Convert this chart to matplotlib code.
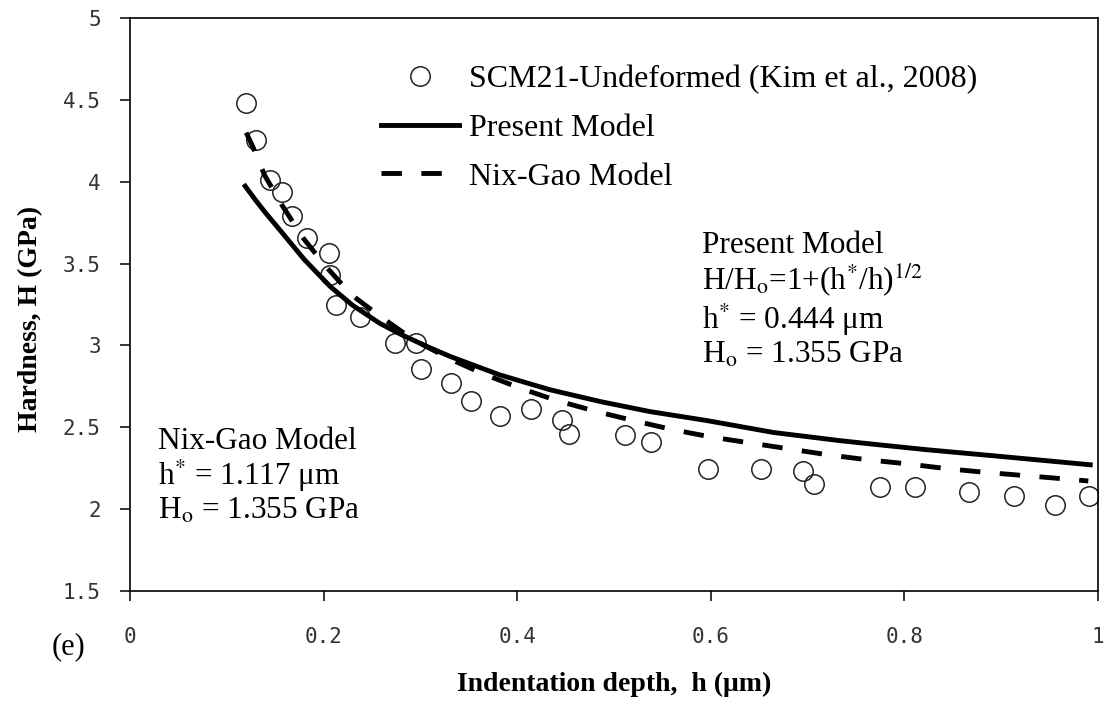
import matplotlib
matplotlib.use('Agg')
import matplotlib.pyplot as plt
from matplotlib.ticker import FormatStrFormatter

plt.rcParams['font.family'] = 'Liberation Serif'
plt.rcParams['mathtext.fontset'] = 'stix'

depth_exp = [0.120, 0.130, 0.145, 0.157, 0.167, 0.183, 0.206, 0.207, 0.213, 0.238,
             0.274, 0.295, 0.301, 0.332, 0.352, 0.382, 0.414, 0.446, 0.454, 0.511,
             0.538, 0.597, 0.652, 0.695, 0.707, 0.775, 0.811, 0.867, 0.913, 0.956, 0.991]
hard_exp = [4.480, 4.257, 4.013, 3.938, 3.790, 3.657, 3.566, 3.433, 3.247, 3.172,
            3.013, 3.017, 2.855, 2.770, 2.663, 2.570, 2.613, 2.543, 2.462, 2.454,
            2.408, 2.247, 2.247, 2.230, 2.154, 2.133, 2.133, 2.102, 2.078, 2.023, 2.078]

# model curves, sampled from the figure
depth_present = [0.119, 0.130, 0.140, 0.155, 0.180, 0.207, 0.230, 0.258, 0.279, 0.307,
                 0.331, 0.382, 0.434, 0.486, 0.537, 0.596, 0.665, 0.734, 0.764, 0.823,
                 0.892, 0.992]
hard_present = [3.973, 3.885, 3.810, 3.704, 3.525, 3.359, 3.245, 3.135, 3.070, 2.993,
                2.932, 2.820, 2.729, 2.657, 2.596, 2.541, 2.468, 2.418, 2.399, 2.363,
                2.326, 2.271]

depth_nixgao = [0.120, 0.127, 0.139, 0.157, 0.179, 0.201, 0.229, 0.260, 0.293, 0.331,
                0.365, 0.403, 0.441, 0.482, 0.520, 0.561, 0.601, 0.641, 0.682, 0.721,
                0.761, 0.804, 0.844, 0.885, 0.926, 0.967, 0.990]
hard_nixgao = [4.300, 4.212, 4.040, 3.857, 3.655, 3.491, 3.308, 3.171, 3.034, 2.916,
               2.826, 2.739, 2.663, 2.596, 2.541, 2.485, 2.440, 2.404, 2.367, 2.332,
               2.302, 2.276, 2.247, 2.224, 2.204, 2.184, 2.172]

x_ticks = [0, 0.2, 0.4, 0.6, 0.8, 1]
y_ticks = [1.5, 2, 2.5, 3, 3.5, 4, 4.5, 5]

fig = plt.figure(figsize=(11.06, 7.05), dpi=100)
ax = fig.add_axes([130 / 1106, 1 - 591 / 705, 968 / 1106, 573 / 705])

ax.plot(depth_exp, hard_exp, 'o', mfc='none', mec='#222222', ms=14, mew=1.1,
        label='SCM21-Undeformed (Kim et al., 2008)')
ax.plot(depth_present, hard_present, '-', color='black', lw=3.5, label='Present Model')
ax.plot(depth_nixgao, hard_nixgao, '--', color='black', lw=3.5, dashes=(4.2, 4.0),
        label='Nix-Gao Model')

ax.set_xlim(0, 1)
ax.set_ylim(1.5, 5)
ax.set_xticks(x_ticks)
ax.set_yticks(y_ticks)
ax.xaxis.set_major_formatter(FormatStrFormatter('%g'))
ax.yaxis.set_major_formatter(FormatStrFormatter('%g'))
for lab in ax.get_xticklabels() + ax.get_yticklabels():
    lab.set_family('DejaVu Sans Mono')
    lab.set_fontsize(15)
    lab.set_color('#333333')
ax.tick_params(direction='out', length=7, width=1.1)
ax.tick_params(axis='x', pad=19)
ax.tick_params(axis='y', pad=14)
for sp in ax.spines.values():
    sp.set_linewidth(1.2)

ax.set_xlabel('Indentation depth,  h (μm)', fontsize=20, fontweight='bold')
ax.xaxis.set_label_coords(0.5, -0.1405)
ax.set_ylabel('Hardness, H (GPa)', fontsize=20, fontweight='bold')
ax.yaxis.set_label_coords(-0.09, 0.4756)

ax.legend(loc='upper left', bbox_to_anchor=(0.246, 0.940), frameon=False, fontsize=23,
          borderaxespad=0, handlelength=2.45, handletextpad=0.3, labelspacing=0.6,
          numpoints=1)

ax.text(0.591, 0.629, 'Present Model\n'
        r'H/H$_{\rm o}$=1+(h$^{*}$/h)$^{1/2}$' '\n'
        r'h$^{*}$ = 0.444 μm' '\n'
        r'H$_{\rm o}$ = 1.355 GPa',
        transform=ax.transAxes, fontsize=22.5, va='top', ha='left', linespacing=1.1)
ax.text(0.029, 0.287, 'Nix-Gao Model\n'
        r'h$^{*}$ = 1.117 μm' '\n'
        r'H$_{\rm o}$ = 1.355 GPa',
        transform=ax.transAxes, fontsize=22.5, va='top', ha='left', linespacing=1.1)

fig.text(52 / 1106, 1 - 647 / 705, '(e)', fontsize=22, va='center', ha='left')

fig.savefig('out.png', dpi=100)
